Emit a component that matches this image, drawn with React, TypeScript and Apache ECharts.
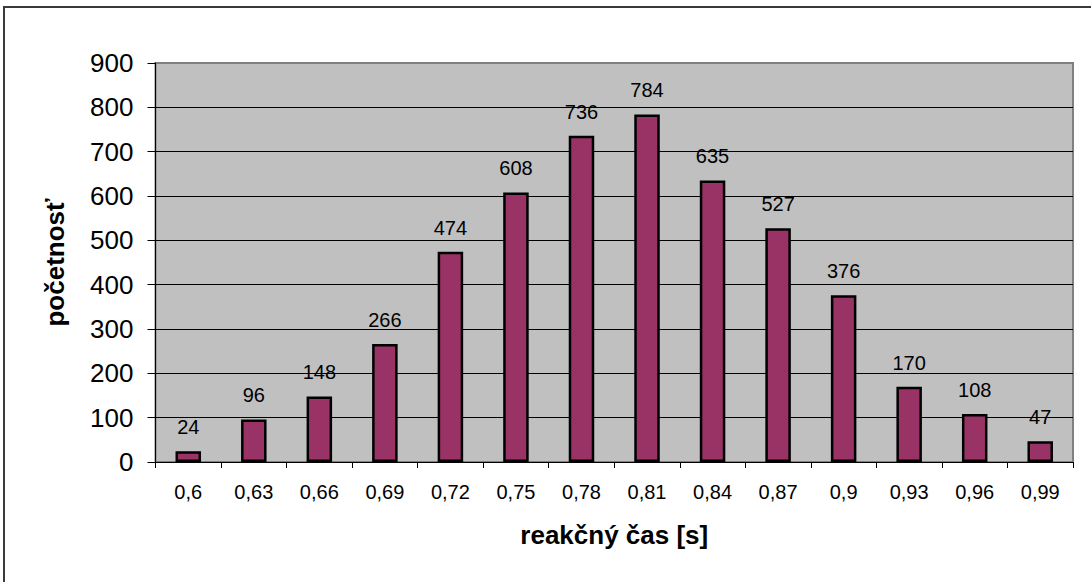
import React, { useEffect, useRef } from "react";
import * as echarts from "echarts";

// reaction time classes [s] and their frequencies
const categories: string[] = [
  "0,6", "0,63", "0,66", "0,69", "0,72", "0,75", "0,78",
  "0,81", "0,84", "0,87", "0,9", "0,93", "0,96", "0,99",
];
const counts: number[] = [24, 96, 148, 266, 474, 608, 736, 784, 635, 527, 376, 170, 108, 47];

const yMin = 0;
const yMax = 900;
const yStep = 100;

const xTitle = "reakčný čas [s]";
const yTitle = "početnosť";

const FONT = "Arial, 'Liberation Sans', sans-serif";

export default function App() {
  const ref = useRef<HTMLDivElement>(null);

  useEffect(() => {
    if (!ref.current) return;
    const chart = echarts.init(ref.current, undefined, { renderer: "svg" });

    // one colour per horizontal grid line; the topmost sits on the grey plot frame
    const gridLineCount = (yMax - yMin) / yStep + 1;
    const gridColors = Array.from({ length: gridLineCount }, (_, i) =>
      i === gridLineCount - 1 ? "#808080" : "#000000"
    );

    chart.setOption({
      animation: false,
      backgroundColor: "#ffffff",
      textStyle: { fontFamily: FONT },
      graphic: [
        {
          type: "rect",
          shape: { x: 4, y: 7, width: 1100, height: 600 },
          style: { fill: "none", stroke: "#3a3a3a", lineWidth: 2 },
          silent: true,
        },
      ],
      grid: {
        left: 155.5,
        top: 63,
        right: 18,
        bottom: 120,
        show: true,
        backgroundColor: "#C0C0C0",
        borderColor: "#808080",
        borderWidth: 2,
      },
      xAxis: {
        type: "category",
        data: categories,
        boundaryGap: true,
        name: xTitle,
        nameLocation: "middle",
        nameGap: 60,
        nameTextStyle: { fontSize: 26, fontWeight: "bold", color: "#000", fontFamily: FONT },
        axisLine: { show: true, lineStyle: { color: "#000", width: 1 } },
        axisTick: { show: true, inside: false, length: 6, alignWithLabel: false, lineStyle: { color: "#000" } },
        axisLabel: { fontSize: 20, color: "#000", margin: 20, interval: 0, fontFamily: FONT },
        splitLine: { show: false },
      },
      yAxis: {
        type: "value",
        min: yMin,
        max: yMax,
        interval: yStep,
        name: yTitle,
        nameLocation: "middle",
        nameGap: 88,
        nameRotate: 90,
        nameTextStyle: { fontSize: 26, fontWeight: "bold", color: "#000", fontFamily: FONT },
        axisLine: { show: true, lineStyle: { color: "#000", width: 1 } },
        axisTick: { show: true, inside: false, length: 8, lineStyle: { color: "#000" } },
        axisLabel: { fontSize: 26, color: "#000", margin: 22, fontFamily: FONT },
        splitLine: { show: true, lineStyle: { color: gridColors, width: 1 } },
      },
      series: [
        {
          type: "bar",
          data: counts,
          barWidth: 25.5,
          itemStyle: { color: "#993366", borderColor: "#000", borderWidth: 2.5 },
          label: {
            show: true,
            position: "top",
            distance: 14,
            fontSize: 20,
            color: "#000",
            fontFamily: FONT,
          },
        },
      ],
    });

    return () => chart.dispose();
  }, []);

  return (
    <div
      ref={ref}
      style={{ position: "fixed", left: 0, top: 0, width: 1091, height: 582 }}
    />
  );
}
